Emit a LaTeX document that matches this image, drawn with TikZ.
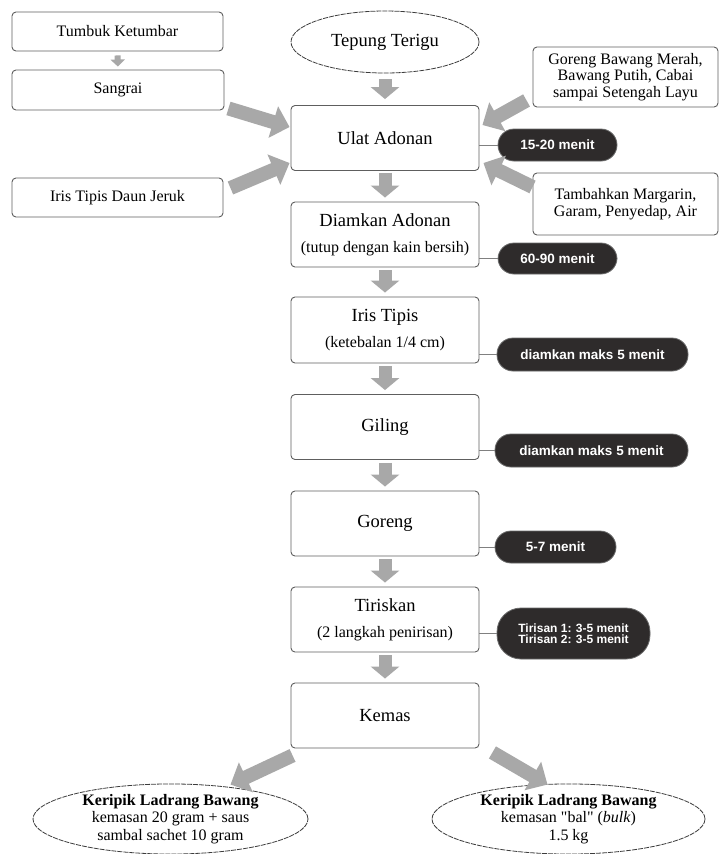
\documentclass[tikz,border=0pt]{standalone}
\usepackage{fontspec}
\setmainfont{Liberation Serif}
\newfontfamily\pillfont{Liberation Sans}
\usetikzlibrary{arrows.meta,shapes.geometric}
\definecolor{boxgray}{HTML}{5E5E5E}
\definecolor{arrowgray}{HTML}{A8A8A8}
\definecolor{pillfill}{HTML}{2E2B2B}
\definecolor{pilledge}{HTML}{6A6A6A}
\definecolor{linkgray}{HTML}{808080}
\definecolor{ovalgray}{HTML}{3C3C3C}
\begin{document}
\begin{tikzpicture}[x=1pt,y=-1pt,
  box/.style={draw=boxgray, line width=0.9pt, rounded corners=4pt, fill=white,
    align=center, inner sep=0pt, font=\fontsize{16}{16.5}\selectfont},
  sidebox/.style={box, minimum width=211pt, minimum height=39pt},
  mainbox/.style={box, minimum width=188pt, minimum height=65pt,
    font=\fontsize{18.5}{20}\selectfont},
  oval/.style={ellipse, draw=ovalgray, line width=0.8pt, dash pattern=on 5pt off 1pt,
    fill=white, inner sep=0pt, align=center},
  pill/.style={fill=pillfill, draw=pilledge, line width=0.8pt, text=white,
    inner sep=0pt, align=center, minimum height=32pt, rounded corners=16pt,
    font=\pillfont\bfseries\fontsize{13.5}{14}\selectfont},
  link/.style={draw=linkgray, line width=1pt},
  fat/.style={draw=arrowgray, line width=14pt, -{Triangle[width=32pt,length=17pt]}},
  down/.style={draw=arrowgray, line width=13pt, -{Triangle[width=28pt,length=12pt]}},
  small/.style={draw=arrowgray, line width=6pt, -{Triangle[width=14pt,length=7pt]}}
]
\useasboundingbox (0,0) rectangle (721,854);
\fill[white] (0,0) rectangle (721,854);

% left side boxes
\node[sidebox] (tumbuk) at (117.5,31.5) {Tumbuk Ketumbar};
\node[sidebox, minimum width=212pt, minimum height=40pt] (sangrai) at (118,90) {Sangrai};
\node[sidebox] (jeruk) at (117.5,197.5) {Iris Tipis Daun Jeruk};

% right side boxes
\node[box, minimum width=185pt, minimum height=60pt] (bawang) at (625.5,77)
  {Goreng Bawang Merah,\\Bawang Putih, Cabai\\sampai Setengah Layu};
\node[box, minimum width=185pt, minimum height=62pt] (tambah) at (625.5,204)
  {Tambahkan Margarin,\\Garam, Penyedap, Air};

% main column
\node[oval, minimum width=188pt, minimum height=62pt, font=\fontsize{18.5}{20}\selectfont]
  (tepung) at (385,42) {Tepung Terigu};
\node[mainbox] (ulat) at (385,138) {Ulat Adonan};
\node[mainbox] (diam) at (385,234.5)
  {Diamkan Adonan\\[6pt]{\fontsize{16}{17}\selectfont (tutup dengan kain bersih)}};
\node[mainbox, minimum height=66pt] (iris) at (385,330)
  {Iris Tipis\\[6pt]{\fontsize{16}{17}\selectfont (ketebalan 1/4 cm)}};
\node[mainbox] (giling) at (385,427) {Giling};
\node[mainbox] (goreng) at (385,523.5) {Goreng};
\node[mainbox] (tiris) at (385,619.5)
  {Tiriskan\\[6pt]{\fontsize{16}{17}\selectfont (2 langkah penirisan)}};
\node[mainbox] (kemas) at (385,715.5) {Kemas};

% outputs
\node[oval, minimum width=275pt, minimum height=66pt, font=\fontsize{16}{17.5}\selectfont]
  (outL) at (170.5,819)
  {\textbf{Keripik Ladrang Bawang}\\kemasan 20 gram + saus\\sambal sachet 10 gram};
\node[oval, minimum width=273pt, minimum height=66pt, font=\fontsize{16}{17.5}\selectfont]
  (outR) at (568.5,819)
  {\textbf{Keripik Ladrang Bawang}\\kemasan \textquotedbl bal\textquotedbl{} (\textit{bulk})\\1.5 kg};

% time pills
\node[pill, minimum width=119pt] (p1) at (557.5,145) {15-20 menit};
\node[pill, minimum width=119pt, minimum height=31pt] (p2) at (557.5,258.5) {60-90 menit};
\node[pill, minimum width=191pt, minimum height=33pt] (p3) at (592.5,354.5) {diamkan maks 5 menit};
\node[pill, minimum width=193pt, minimum height=33pt] (p4) at (591.5,450.5) {diamkan maks 5 menit};
\node[pill, minimum width=121pt] (p5) at (555.5,547) {5-7 menit};
\node[pill, minimum width=153pt, minimum height=51pt, rounded corners=24pt,
  font=\pillfont\bfseries\fontsize{12}{11.5}\selectfont] (p6) at (573.5,633.5)
  {Tirisan 1: 3-5 menit\\Tirisan 2: 3-5 menit};

% pill links
\draw[link] (p1.west) -- (p1.west -| ulat.east);
\draw[link] (p2.west) -- (p2.west -| diam.east);
\draw[link] (p3.west) -- (p3.west -| iris.east);
\draw[link] (p4.west) -- (p4.west -| giling.east);
\draw[link] (p5.west) -- (p5.west -| goreng.east);
\draw[link] (p6.west) -- (p6.west -| tiris.east);

% main down arrows
\draw[down, shorten <=6pt, shorten >=6pt] (tepung.south) -- (ulat.north);
\draw[down, shorten <=2pt, shorten >=4pt] (ulat.south) -- (diam.north);
\draw[down, shorten <=3pt, shorten >=4pt] (diam.south) -- (iris.north);
\draw[down, shorten <=3pt, shorten >=4pt] (iris.south) -- (giling.north);
\draw[down, shorten <=3pt, shorten >=4pt] (giling.south) -- (goreng.north);
\draw[down, shorten <=3pt, shorten >=4pt] (goreng.south) -- (tiris.north);
\draw[down, shorten <=3pt, shorten >=4pt] (tiris.south) -- (kemas.north);
\draw[small, shorten <=4pt, shorten >=3pt] (tumbuk.south) -- (sangrai.north);

% side arrows into Ulat Adonan
\draw[fat] ([shift={(4pt,2pt)}]sangrai.south east) -- ([shift={(-1pt,11pt)}]ulat.west);
\draw[fat] ([shift={(7pt,9.5pt)}]jeruk.east) -- ([shift={(-1pt,-25pt)}]ulat.west);
\draw[fat] ([shift={(-6pt,7pt)}]bawang.south west) -- ([shift={(3pt,13pt)}]ulat.east);
\draw[fat] ([shift={(0pt,17pt)}]tambah.west) -- ([shift={(4pt,-25pt)}]ulat.east);

% output arrows
\draw[fat] ([shift={(2pt,-7pt)}]kemas.south west) -- ([shift={(60pt,-1pt)}]outL.north);
\draw[fat] ([shift={(13pt,-4pt)}]kemas.south east) -- ([shift={(-21pt,-1pt)}]outR.north);
\end{tikzpicture}
\end{document}
